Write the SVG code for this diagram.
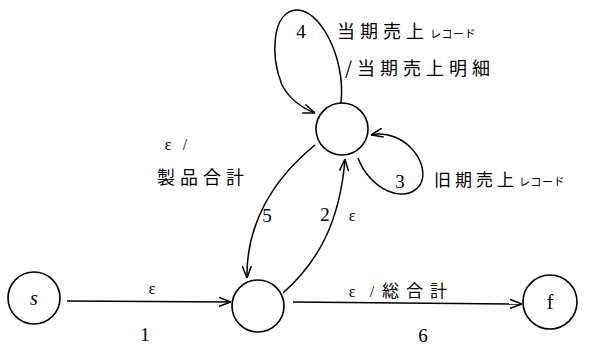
<svg xmlns="http://www.w3.org/2000/svg" width="593" height="347" viewBox="0 0 593 347">
<style>
.node{fill:#fff;stroke:#000;stroke-width:1.6}
.edge{fill:none;stroke:#000;stroke-width:1.5}
.num{font-family:"Liberation Serif",serif;font-size:19px;fill:#000}
.eps{font-family:"Liberation Serif",serif;font-size:16px;fill:#000}
.jp{font-family:"Noto Sans CJK JP","Noto Sans CJK SC",sans-serif;font-size:18px;fill:#000;letter-spacing:5px}
.kana{font-family:"Noto Sans CJK JP",sans-serif;font-size:11px;fill:#000;letter-spacing:0.5px}
</style>
<defs>
<marker id="arr" viewBox="0 0 12 10" refX="12" refY="5" markerWidth="12" markerHeight="10" markerUnits="userSpaceOnUse" orient="auto">
<path d="M0,0.5 L12,5 L0,9.5" fill="none" stroke="#000" stroke-width="1.5"/>
</marker>
</defs>
<g id="connectors">
<g id="e1"><path class="edge" d="M67,301 L231,302" marker-end="url(#arr)"/>
<text class="eps" x="152" y="294" text-anchor="middle">ε</text>
<text class="num" x="145" y="341" text-anchor="middle">1</text></g>
<g id="e6"><path class="edge" d="M293,302 L522,304" marker-end="url(#arr)"/>
<text class="eps" x="352" y="297" text-anchor="middle">ε</text>
<text class="eps" x="372" y="297" text-anchor="middle">/</text>
<text class="jp" x="382" y="297" style="letter-spacing:7px;font-size:17px">総合計</text>
<text class="num" x="423" y="342" text-anchor="middle">6</text></g>
<g id="e2"><path class="edge" d="M283,293 C318,262 340,222 345,159" marker-end="url(#arr)"/>
<text class="num" x="325" y="221" text-anchor="middle">2</text>
<text class="eps" x="352" y="221" text-anchor="middle">ε</text></g>
<g id="e5"><path class="edge" d="M315,145 C272,180 246,225 247,278" marker-end="url(#arr)"/>
<text class="num" x="267" y="222" text-anchor="middle">5</text>
<text class="eps" x="168" y="150" text-anchor="middle">ε</text>
<text class="eps" x="185" y="150" text-anchor="middle">/</text>
<text class="jp" x="157" y="184">製品合計</text></g>
<g id="e4"><path class="edge" d="M341,103 C346,55 318,8 296,10 C272,12 270,55 282,85 C290,100 302,108 315,113" marker-end="url(#arr)"/>
<text class="num" x="301" y="38" text-anchor="middle">4</text>
<text class="jp" x="337" y="38">当期売上</text>
<text class="kana" x="430" y="38">レコード</text>
<text class="jp" x="345" y="75">/当期売上明細</text></g>
<g id="e3"><path class="edge" d="M358,158 C370,190 405,205 420,185 C432,165 405,128 371,135" marker-end="url(#arr)"/>
<text class="num" x="400" y="188" text-anchor="middle">3</text>
<text class="jp" x="434" y="186" style="letter-spacing:4px;font-size:17px">旧期売上</text>
<text class="kana" x="519" y="186">レコード</text></g>
</g>
<g id="s"><circle class="node" cx="34" cy="298" r="26"/>
<text x="34" y="305" text-anchor="middle" style="font-family:'Liberation Serif',serif;font-size:20px;font-style:italic">s</text></g>
<g id="q1"><circle class="node" cx="258" cy="306" r="26"/></g>
<g id="q2"><circle class="node" cx="342" cy="129" r="26"/></g>
<g id="f"><circle class="node" cx="550" cy="302" r="27"/>
<text x="550" y="309" text-anchor="middle" style="font-family:'Liberation Serif',serif;font-size:20px">f</text></g>
</svg>
